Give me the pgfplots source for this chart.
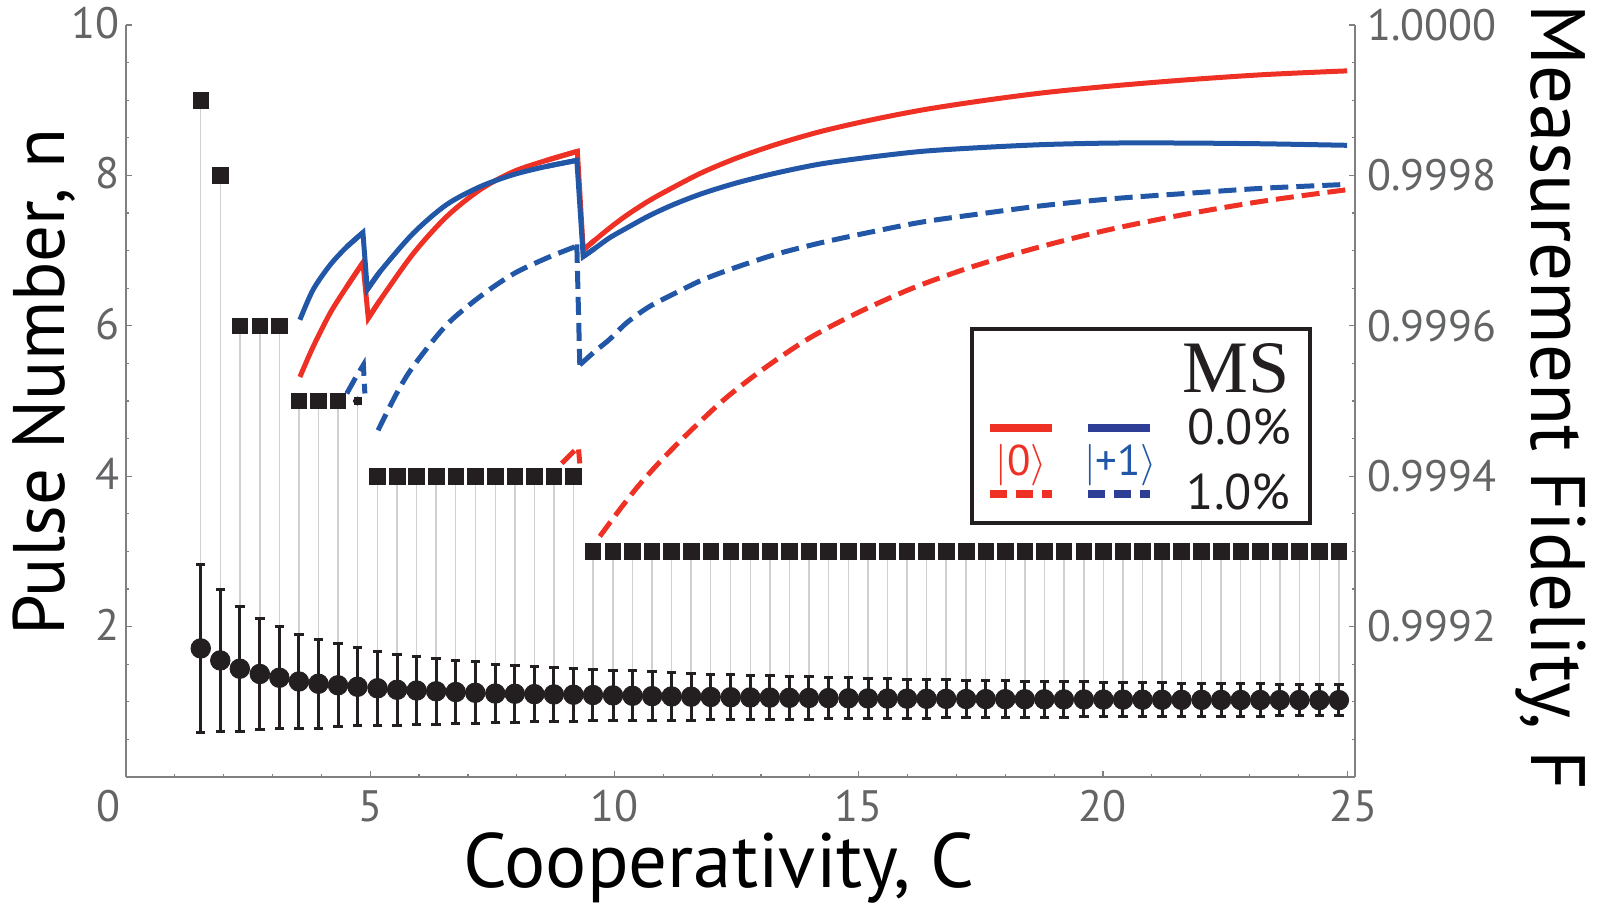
\documentclass[border=0pt]{standalone}
\usepackage{fontspec}
\setmainfont{PT Sans}
\newfontfamily\serifMS{Liberation Serif}
\usepackage{pgfplots}
\usepackage{pgfplotstable}
\pgfplotsset{compat=1.18}

\definecolor{curvered}{RGB}{238,49,36}
\definecolor{curveblue}{RGB}{33,87,166}
\definecolor{navy}{RGB}{46,62,150}
\definecolor{ink}{RGB}{35,31,32}
\definecolor{stem}{RGB}{208,208,208}
\definecolor{axisgray}{RGB}{128,128,128}
\definecolor{tickgray}{RGB}{99,100,102}

% optimal pulse number n, and mean pulses used (with spread), versus cooperativity C
\pgfplotstableread{
C     n  mean   err
1.53  9  1.71   1.12
1.93  8  1.55   0.945
2.33  6  1.44   0.83
2.74  6  1.37   0.74
3.14  6  1.32   0.68
3.54  5  1.27   0.63
3.94  5  1.24   0.59
4.34  5  1.22   0.55
4.74  5  1.20   0.52
5.15  4  1.18   0.495
5.55  4  1.16   0.475
5.95  4  1.15   0.455
6.35  4  1.14   0.44
6.75  4  1.13   0.425
7.15  4  1.12   0.41
7.56  4  1.11   0.39
7.96  4  1.107  0.38
8.36  4  1.102  0.37
8.76  4  1.098  0.36
9.16  4  1.094  0.352
9.56  3  1.090  0.345
9.97  3  1.085  0.337
10.37 3  1.080  0.330
10.77 3  1.075  0.323
11.17 3  1.071  0.317
11.57 3  1.068  0.311
11.97 3  1.064  0.305
12.38 3  1.061  0.300
12.78 3  1.058  0.294
13.18 3  1.056  0.290
13.58 3  1.053  0.285
13.98 3  1.051  0.280
14.38 3  1.049  0.276
14.79 3  1.047  0.272
15.19 3  1.045  0.268
15.59 3  1.043  0.264
15.99 3  1.042  0.261
16.39 3  1.040  0.257
16.79 3  1.039  0.254
17.20 3  1.037  0.250
17.60 3  1.036  0.247
18.00 3  1.035  0.244
18.40 3  1.034  0.241
18.80 3  1.033  0.238
19.20 3  1.032  0.236
19.61 3  1.031  0.233
20.01 3  1.030  0.230
20.41 3  1.029  0.228
20.81 3  1.028  0.226
21.21 3  1.027  0.223
21.61 3  1.026  0.221
22.02 3  1.026  0.219
22.42 3  1.025  0.217
22.82 3  1.024  0.215
23.22 3  1.024  0.213
23.62 3  1.023  0.211
24.02 3  1.023  0.209
24.43 3  1.022  0.207
24.83 3  1.022  0.205
}\pulses

\pgfplotsset{
  common/.style={
    scale only axis, width=614.5pt, height=376pt,
    xmin=0, xmax=25.16,
    tick align=inside,
    major tick length=3pt, minor tick length=1.6pt,
    every tick/.style={axisgray, line width=0.6pt},
    axis line style={-, axisgray, line width=0.75pt},
    /pgf/number format/assume math mode=true,
    tick label style={font=\fontsize{22}{24}\selectfont, text=tickgray},
    label style={text=black, inner sep=0pt},
    scaled ticks=false,
  },
  solidred/.style={curvered, line width=2.5pt},
  solidblue/.style={curveblue, line width=2.5pt},
  dashred/.style={curvered, line width=2.5pt, dash pattern=on 9pt off 4pt},
  dashblue/.style={curveblue, line width=2.5pt, dash pattern=on 9pt off 4pt},
}

\begin{document}
\begin{tikzpicture}
% fidelity curves on the right-hand axis
\begin{axis}[common,
  axis x line=none, axis y line*=right,
  ymin=0.999, ymax=1,
  ytick={0.9992,0.9994,0.9996,0.9998,1},
  minor ytick={0.99905,0.9991,0.99915,0.99925,0.9993,0.99935,0.99945,0.9995,0.99955,0.99965,0.9997,0.99975,0.99985,0.9999,0.99995},
  yticklabel={\pgfmathprintnumber[fixed,fixed zerofill,precision=4]{\tick}},
  yticklabel style={anchor=west, inner sep=0pt, xshift=6pt},
  ylabel={Measurement Fidelity, F},
  ylabel style={at={(axis description cs:1.144,0.505)}, anchor=base, rotate=180, font=\fontsize{38.5}{42}\selectfont},
]
% |0>, MS 0.0%
\addplot[solidred, smooth] coordinates {(3.56,0.999532) (3.83,0.999572) (4.18,0.999617) (4.52,0.999652) (4.85,0.999684)};
\addplot[solidred] coordinates {(4.52,0.999652) (4.85,0.999684) (4.96,0.999610) (5.20,0.999634)};
\addplot[solidred, smooth] coordinates {(4.96,0.999610) (5.20,0.999634) (5.88,0.999696) (6.56,0.999745) (7.25,0.999781) (7.93,0.999805) (8.61,0.999820) (9.24,0.999832)};
\addplot[solidred] coordinates {(8.61,0.999820) (9.24,0.999832) (9.36,0.999701) (9.60,0.999714)};
\addplot[solidred, smooth] coordinates {(9.36,0.999701) (9.60,0.999714) (9.90,0.999730) (10.25,0.999747) (10.70,0.999766) (11.20,0.999784) (11.80,0.999804) (12.50,0.999823) (13.30,0.999841) (14.20,0.999858) (15.20,0.999873) (16.30,0.999887) (17.50,0.999899) (18.80,0.999910) (20.20,0.999919) (21.70,0.999927) (23.30,0.999934) (25,0.999939)};
% |+1>, MS 0.0%
\addplot[solidblue, smooth] coordinates {(3.56,0.999608) (3.83,0.999648) (4.18,0.999681) (4.52,0.999705) (4.85,0.999724)};
\addplot[solidblue] coordinates {(4.52,0.999705) (4.85,0.999724) (4.94,0.999648) (5.20,0.999672)};
\addplot[solidblue, smooth] coordinates {(4.94,0.999648) (5.20,0.999672) (5.88,0.999723) (6.56,0.999761) (7.25,0.999785) (7.93,0.999801) (8.61,0.999812) (9.23,0.999820)};
\addplot[solidblue] coordinates {(8.61,0.999812) (9.23,0.999820) (9.36,0.999692) (9.60,0.999703)};
\addplot[solidblue, smooth] coordinates {(9.36,0.999692) (9.60,0.999703) (9.90,0.999717) (10.25,0.999730) (10.70,0.999746) (11.20,0.999761) (11.80,0.999776) (12.50,0.999790) (13.30,0.999803) (14.20,0.999815) (15.20,0.999824) (16.30,0.999832) (17.50,0.999837) (18.80,0.999841) (20.20,0.999843) (21.70,0.999843) (23.30,0.999842) (25,0.999840)};
% |+1>, MS 1.0%
\addplot[dashblue] coordinates {(4.52,0.999510) (4.70,0.999531) (4.86,0.999548) (4.89,0.999510)};
\addplot[dashblue, smooth] coordinates {(5.16,0.999461) (5.54,0.999510) (5.88,0.999546) (6.56,0.999601) (7.25,0.999639) (7.93,0.999669) (8.61,0.999690) (9.19,0.999705)};
\addplot[dashblue] coordinates {(9.19,0.999705) (9.23,0.999705) (9.29,0.999548)};
\addplot[dashblue, smooth] coordinates {(9.29,0.999548) (9.60,0.999566) (9.90,0.999582) (10.25,0.999604) (10.70,0.999625) (11.20,0.999642) (11.80,0.999661) (12.50,0.999678) (13.30,0.999695) (14.20,0.999710) (15.20,0.999724) (16.30,0.999738) (17.50,0.999749) (18.80,0.999760) (20.20,0.999769) (21.70,0.999776) (23.30,0.999783) (25,0.999788)};
% |0>, MS 1.0%
\addplot[dashred] coordinates {(8.92,0.999417) (9.26,0.999439) (9.29,0.999417)};
\addplot[dashred, smooth] coordinates {(9.70,0.999320) (10.10,0.999355) (10.50,0.999388) (11.00,0.999424) (11.60,0.999463) (12.30,0.999505) (13.10,0.999545) (14.00,0.999584) (15.00,0.999618) (16.10,0.999650) (17.30,0.999678) (18.60,0.999703) (20.00,0.999726) (21.50,0.999746) (23.20,0.999765) (25,0.999781)};
\end{axis}

% pulse numbers on the left-hand axis
\begin{axis}[common,
  axis x line*=bottom, axis y line*=left,
  ymin=0, ymax=10,
  xtick={0,5,10,15,20,25},
  xticklabels={\hbox to 0pt{\hss 0\hskip 3pt},5,10,15,20,\hbox to 0pt{\hskip -8.7pt 25\hss}},
  minor x tick num=4,
  ytick={0,2,4,6,8,10}, yticklabels={,2,4,6,8,10},
  minor y tick num=3,
  xticklabel style={anchor=north, inner sep=0pt, yshift=-6.5pt},
  yticklabel style={anchor=east, inner sep=0pt, xshift=-3pt, yshift=1pt},
  xlabel={Cooperativity, C},
  xlabel style={at={(axis description cs:0.4825,-0.1476)}, anchor=base, font=\fontsize{38.5}{42}\selectfont},
  ylabel={Pulse Number, n},
  ylabel style={at={(axis description cs:-0.0504,0.525)}, anchor=base, font=\fontsize{36.5}{40}\selectfont},
]
% stems from each optimal n down to the mean
\addplot[only marks, mark=none, forget plot,
  error bars/.cd, y dir=minus, y explicit, error mark=none,
  error bar style={stem, line width=0.75pt}]
  table[x=C, y=n, y error expr=\thisrow{n}-\thisrow{mean}] {\pulses};
\addplot[only marks, mark=square*, mark size=3.9pt, color=ink,
  x filter/.expression={abs(x-4.74)<0.01 ? nan : x}, unbounded coords=discard]
  table[x=C, y=n] {\pulses};
\addplot[only marks, mark=square*, mark size=1.7pt, color=ink,
  x filter/.expression={abs(x-4.74)<0.01 ? x : nan}, unbounded coords=discard]
  table[x=C, y=n] {\pulses};
\addplot[only marks, mark=*, mark size=4.9pt, color=ink,
  error bars/.cd, y dir=both, y explicit, error mark=-,
  error bar style={ink, line width=1.5pt},
  error mark options={rotate=90, ink, line width=1.5pt, mark size=2.35pt}]
  table[x=C, y=mean, y error=err] {\pulses};
\end{axis}

% legend
\draw[ink, line width=2pt, fill=white] (422.85pt,126.85pt) rectangle (592pt,223.85pt);
\node[anchor=base, inner sep=0pt, text=ink] at (555pt,192pt) {\serifMS\fontsize{37}{40}\selectfont MS};
\node[anchor=base east, inner sep=0pt, text=ink] at (583pt,166pt) {\fontsize{25}{28}\selectfont 0.0\%};
\node[anchor=base east, inner sep=0pt, text=ink] at (582.5pt,133.5pt) {\fontsize{25}{28}\selectfont 1.0\%};
\draw[curvered, line width=4pt] (432pt,174.35pt) -- (463pt,174.35pt);
\draw[navy, line width=4pt] (480.85pt,174.35pt) -- (512pt,174.35pt);
\draw[curvered, line width=4pt, dash pattern=on 8.5pt off 4.5pt] (432pt,141.5pt) -- (463pt,141.5pt);
\draw[navy, line width=4pt, dash pattern=on 8.5pt off 4.5pt] (480.85pt,141.5pt) -- (512pt,141.5pt);
\node[anchor=base, inner sep=0pt, text=curvered] at (447.75pt,150.5pt) {\fontsize{21.5}{24}\selectfont$\vert$0$\rangle$};
\node[anchor=base, inner sep=0pt, text=curveblue] at (497.25pt,150.5pt) {\fontsize{21.5}{24}\selectfont$\vert$+1$\rangle$};

\pgfresetboundingbox
\path[use as bounding box] (-63pt,-66pt) rectangle (736.5pt,388.5pt);
\end{tikzpicture}
\end{document}
